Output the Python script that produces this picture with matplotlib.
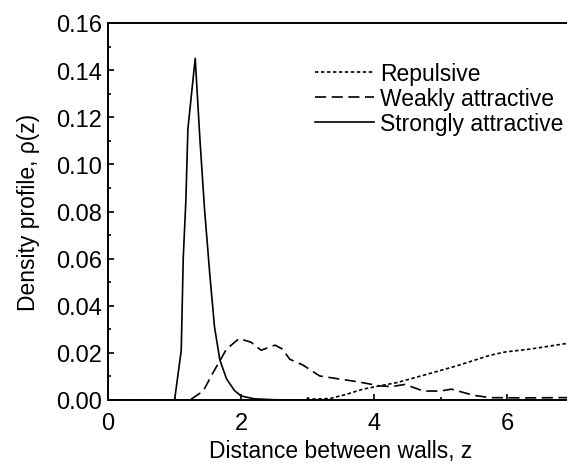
import matplotlib
matplotlib.use("Agg")
import matplotlib.pyplot as plt
from matplotlib.ticker import MultipleLocator

# strongly attractive (solid)
z_strong = [0.0, 1.0, 1.1, 1.13, 1.17, 1.2, 1.31, 1.38, 1.45, 1.53, 1.6, 1.68,
            1.78, 1.9, 2.0, 2.2, 2.5, 3.0, 7.0]
rho_strong = [0.0, 0.0, 0.021, 0.06, 0.085, 0.115, 0.145, 0.111, 0.081, 0.053,
              0.031, 0.017, 0.009, 0.004, 0.0017, 0.0005, 0.0001, 0.0, 0.0]

# weakly attractive (dashed)
z_weak = [0.0, 1.23, 1.43, 1.58, 1.78, 1.97, 2.15, 2.30, 2.51, 2.62, 2.73, 2.93,
          3.18, 3.43, 3.74, 4.08, 4.26, 4.46, 4.74, 4.99, 5.16, 5.49, 5.74,
          6.24, 6.84, 7.0]
rho_weak = [0.0, 0.0, 0.0038, 0.0117, 0.0216, 0.0261, 0.0245, 0.0211, 0.0233,
            0.0216, 0.0173, 0.0148, 0.0102, 0.0091, 0.0078, 0.006, 0.0057,
            0.0066, 0.0038, 0.0038, 0.0046, 0.002, 0.001, 0.0009, 0.001, 0.001]

# repulsive (dotted)
z_rep = [2.98, 3.33, 3.58, 3.83, 4.08, 4.34, 4.74, 5.24, 5.74, 5.97, 6.34,
         6.89, 7.0]
rho_rep = [0.0003, 0.0006, 0.0024, 0.0046, 0.006, 0.0074, 0.0105, 0.0145,
           0.019, 0.0204, 0.0216, 0.024, 0.0242]

plt.rcParams["font.family"] = ["Liberation Sans", "DejaVu Sans"]
plt.rcParams["lines.scale_dashes"] = False

fig = plt.figure(figsize=(5.67, 4.64), dpi=100)
ax = fig.add_axes([108 / 567, 63 / 464, 466 / 567, 377 / 464])

lw = 1.2
ax.plot(z_rep, rho_rep, color="black", lw=lw, dashes=(2.5, 1.8), label="Repulsive")
ax.plot(z_weak, rho_weak, color="black", lw=lw, dashes=(8, 4), label="Weakly attractive")
ax.plot(z_strong, rho_strong, color="black", lw=lw, label="Strongly attractive")

ax.set_xlim(0, 7)
ax.set_ylim(0, 0.16)
ax.xaxis.set_major_locator(MultipleLocator(2))
ax.xaxis.set_minor_locator(MultipleLocator(1))
ax.yaxis.set_major_locator(MultipleLocator(0.02))
ax.yaxis.set_minor_locator(MultipleLocator(0.01))
ax.yaxis.set_major_formatter(plt.FormatStrFormatter("%.2f"))

ax.tick_params(which="both", direction="in", width=1.2, labelsize=17)
ax.tick_params(which="major", length=4.5, pad=4)
ax.tick_params(which="minor", length=2.5)
ax.tick_params(axis="x", which="major", pad=9)
ax.tick_params(axis="x", which="both", top=False)
ax.tick_params(axis="y", which="both", right=False)
for s in ax.spines.values():
    s.set_linewidth(1.4)

ax.set_xlabel("Distance between walls, z", fontsize=16.5, labelpad=3)
ax.set_ylabel("Density profile, \u03c1(z)", fontsize=16.5, labelpad=12)

ax.legend(loc="upper left", bbox_to_anchor=(0.444, 0.897), frameon=False,
          fontsize=16.5, handlelength=2.6, handletextpad=0.25, labelspacing=0.1,
          borderaxespad=0, borderpad=0)

fig.savefig("out.png", dpi=100)
